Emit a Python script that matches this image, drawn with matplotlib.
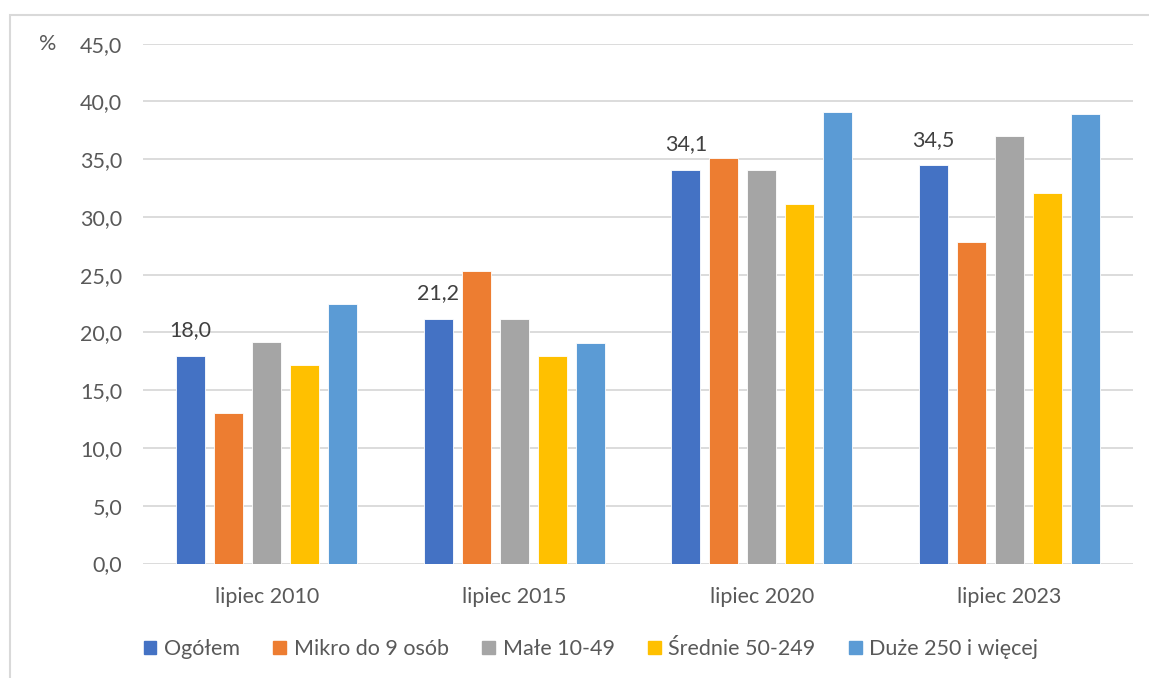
import numpy as np
import matplotlib
matplotlib.use('Agg')
import matplotlib.pyplot as plt
import matplotlib.patches as mpatches

plt.rcParams['font.family'] = ['Lato', 'DejaVu Sans']
FONT = 15.5
TXT = '#595959'

# ── Data ──────────────────────────────────────────────────────────────────────
periods = ['lipiec 2010', 'lipiec 2015', 'lipiec 2020', 'lipiec 2023']
series = ['Ogółem', 'Mikro do 9 osób', 'Małe 10-49', 'Średnie 50-249', 'Duże 250 i więcej']

ogolem  = [18.0, 21.2, 34.1, 34.5]
mikro   = [13.0, 25.3, 35.1, 27.8]
male    = [19.2, 21.2, 34.1, 37.0]
srednie = [17.2, 18.0, 31.1, 32.1]
duze    = [22.5, 19.1, 39.1, 38.9]

yticks = [0, 5, 10, 15, 20, 25, 30, 35, 40, 45]

colors = ['#4472C4', '#ED7D31', '#A5A5A5', '#FFC000', '#5B9BD5']

# ── Figure ────────────────────────────────────────────────────────────────────
fig = plt.figure(figsize=(11.49, 6.78), dpi=100)
ax = fig.add_axes([143 / 1149, 114.5 / 678, 990 / 1149, 519.8 / 678])

x = np.arange(len(periods)) + 0.5
step = 0.1535
width = 0.119
values = [ogolem, mikro, male, srednie, duze]

for i, (name, vals, col) in enumerate(zip(series, values, colors)):
    bars = ax.bar(x + (i - 2) * step, vals, width, color=col, label=name,
                  edgecolor='white', linewidth=0.6, zorder=2)
    if i == 0:
        for b, v in zip(bars, vals):
            ax.annotate(f'{v:.1f}'.replace('.', ','),
                        (b.get_x() + b.get_width() / 2, v),
                        xytext=(0, 11), textcoords='offset points',
                        ha='center', va='bottom', fontsize=FONT, color='#404040')

ax.set_xlim(0, 4)
ax.set_ylim(0, 45)
ax.set_yticks(yticks)
ax.set_yticklabels([f'{t:.1f}'.replace('.', ',') for t in yticks])
ax.set_xticks(x)
ax.set_xticklabels(periods)
ax.tick_params(axis='both', length=0, labelsize=FONT, colors=TXT)
ax.tick_params(axis='y', pad=15)
ax.tick_params(axis='x', pad=17)
ax.grid(axis='y', color='#D9D9D9', linewidth=1.3, zorder=0)
ax.set_axisbelow(True)
for s in ax.spines.values():
    s.set_visible(False)

fig.text(48 / 1149, 1 - 44 / 678, '%', ha='center', va='center',
         fontsize=FONT, color=TXT)

# outer chart frame
fig.patches.append(mpatches.Rectangle((10 / 1149, -0.02), 1.1, 1.02 - 15 / 678,
                                      transform=fig.transFigure, fill=False,
                                      edgecolor='#D9D9D9', linewidth=1.5))

handles = [mpatches.Patch(color=c, label=n) for c, n in zip(colors, series)]
fig.legend(handles=handles, ncol=5, loc='center',
           bbox_to_anchor=(591 / 1149, 1 - 649 / 678), frameon=False,
           fontsize=FONT, labelcolor=TXT, handlelength=0.6, handleheight=0.6,
           handletextpad=0.35, columnspacing=1.55)

plt.savefig('out.png', dpi=100)
